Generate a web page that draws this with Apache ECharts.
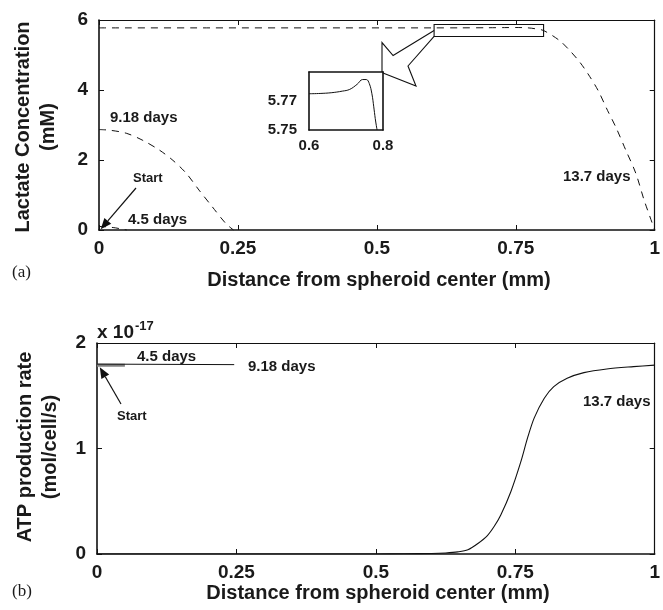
<!DOCTYPE html>
<html>
<head>
<meta charset="utf-8">
<script src="https://cdn.jsdelivr.net/npm/echarts@6/dist/echarts.min.js"></script>
<style>
  html, body { margin: 0; padding: 0; background: #fff; }
  #chart { width: 663px; height: 610px; }
</style>
</head>
<body>
<div id="chart"></div>
<script>
// ---- Panel (a): lactate concentration (mM) vs distance from spheroid center (mm)
const lacDist45 = [0, 0.01, 0.02, 0.03, 0.04, 0.05];
const lac45 = [0.1, 0.095, 0.08, 0.06, 0.03, 0];

const lacDist918 = [0, 0.02, 0.05, 0.079, 0.109, 0.133, 0.157, 0.18, 0.204, 0.228, 0.242];
const lac918 = [2.87, 2.85, 2.76, 2.56, 2.28, 1.99, 1.62, 1.14, 0.66, 0.19, 0];

const lacDist137 = [0, 0.2, 0.4, 0.6, 0.65, 0.7, 0.73, 0.75, 0.77, 0.785, 0.8, 0.829, 0.847, 0.865, 0.88, 0.898, 0.915, 0.93, 0.948, 0.966, 0.981, 1.0];
const lac137 = [5.775, 5.775, 5.775, 5.775, 5.776, 5.779, 5.783, 5.785, 5.778, 5.75, 5.70, 5.41, 5.13, 4.80, 4.46, 3.99, 3.42, 2.94, 2.28, 1.62, 0.85, 0];

// zoomed view of the 13.7-day plateau
const insetDist = [0.6, 0.63, 0.66, 0.69, 0.71, 0.73, 0.745, 0.755, 0.763, 0.77, 0.775, 0.779, 0.782, 0.784];
const insetLac = [5.775, 5.7752, 5.7757, 5.7768, 5.778, 5.7815, 5.7848, 5.7848, 5.782, 5.775, 5.766, 5.758, 5.753, 5.75];

// ---- Panel (b): ATP production rate, in units of 1e-17 mol/cell/s
const atpDist45 = [0, 0.05];
const atp45 = [1.79, 1.79];

const atpDist918 = [0, 0.246];
const atp918 = [1.80, 1.795];

const atpDist137 = [0, 0.2, 0.4, 0.5, 0.55, 0.6, 0.625, 0.647, 0.665, 0.683, 0.7, 0.712, 0.724, 0.742, 0.76, 0.772, 0.784, 0.802, 0.819, 0.843, 0.873, 0.914, 0.962, 1.0];
const atp137 = [0, 0, 0, 0, 0.002, 0.005, 0.01, 0.02, 0.04, 0.10, 0.175, 0.26, 0.37, 0.59, 0.875, 1.10, 1.29, 1.476, 1.586, 1.665, 1.719, 1.754, 1.776, 1.79];

// ---- Tick labels
const xTicks = [0, 0.25, 0.5, 0.75, 1];
const lacTicks = [0, 2, 4, 6];
const atpTicks = [0, 1, 2];
const insetXTicks = [0.6, 0.8];
const insetYTicks = [5.75, 5.77];

const FONT = '"Liberation Sans", Arial, Helvetica, sans-serif';
const SERIF = '"Liberation Serif", "Times New Roman", serif';

const pairs = (xs, ys) => xs.map((x, i) => [x, ys[i]]);
const fmtX = v => (Math.abs(v - 1) < 1e-9 ? '1' : Math.abs(v) < 1e-9 ? '0' : String(+v.toFixed(2)));

const tickLabel = { fontFamily: FONT, fontWeight: 'bold', fontSize: 19, color: '#1a1a1a' };

function mainX(gridIndex) {
  return [
    {
      type: 'value', gridIndex, min: 0, max: 1, interval: 0.25, position: 'bottom',
      axisLine: { onZero: false, lineStyle: { color: '#111', width: 1.6 } },
      axisTick: { inside: true, length: 5, customValues: xTicks, lineStyle: { color: '#111', width: 1 } },
      axisLabel: Object.assign({ margin: 9, customValues: xTicks, formatter: fmtX }, tickLabel),
      splitLine: { show: false }
    },
    {
      type: 'value', gridIndex, min: 0, max: 1, interval: 0.25, position: 'top',
      axisLine: { onZero: false, lineStyle: { color: '#111', width: 1.2 } },
      axisTick: { inside: true, length: 5, lineStyle: { color: '#111', width: 1 } },
      axisLabel: { show: false }, splitLine: { show: false }
    }
  ];
}
function mainY(gridIndex, max, interval, ticks) {
  return [
    {
      type: 'value', gridIndex, min: 0, max, interval, position: 'left',
      axisLine: { show: true, onZero: false, lineStyle: { color: '#111', width: 1.6 } },
      axisTick: { show: true, inside: true, length: 5, lineStyle: { color: '#111', width: 1 } },
      axisLabel: Object.assign({ margin: 11, customValues: ticks }, tickLabel),
      splitLine: { show: false }
    },
    {
      type: 'value', gridIndex, min: 0, max, interval, position: 'right',
      axisLine: { show: true, onZero: false, lineStyle: { color: '#111', width: 1.2 } },
      axisTick: { show: true, inside: true, length: 5, lineStyle: { color: '#111', width: 1 } },
      axisLabel: { show: false }, splitLine: { show: false }
    }
  ];
}

const insetLabel = { fontFamily: FONT, fontWeight: 'bold', fontSize: 15, color: '#1a1a1a', showMinLabel: true, showMaxLabel: true };

const chart = echarts.init(document.getElementById('chart'), null, { renderer: 'canvas' });

const dashed = { color: '#111', width: 1, type: [7, 6] };

chart.setOption({
  animation: false,
  backgroundColor: '#fff',
  grid: [
    { left: 99, top: 20, width: 560, height: 210 },
    { left: 97, top: 343, width: 561, height: 211 },
    { left: 309, top: 72, width: 74, height: 58 }
  ],
  xAxis: [
    ...mainX(0),
    ...mainX(1),
    {
      type: 'value', gridIndex: 2, min: 0.6, max: 0.8, position: 'bottom',
      axisLine: { onZero: false, lineStyle: { color: '#111', width: 1.6 } },
      axisTick: { show: false },
      axisLabel: Object.assign({ margin: 8, customValues: insetXTicks, formatter: v => v.toFixed(1) }, insetLabel),
      splitLine: { show: false }
    },
    {
      type: 'value', gridIndex: 2, min: 0.6, max: 0.8, position: 'top',
      axisLine: { onZero: false, lineStyle: { color: '#111', width: 1.6 } },
      axisTick: { show: false }, axisLabel: { show: false }, splitLine: { show: false }
    }
  ],
  yAxis: [
    ...mainY(0, 6, 2, lacTicks),
    ...mainY(1, 2, 1, atpTicks),
    {
      type: 'value', gridIndex: 2, min: 5.75, max: 5.79, position: 'left',
      axisLine: { show: true, onZero: false, lineStyle: { color: '#111', width: 1.6 } },
      axisTick: { show: false },
      axisLabel: Object.assign({ margin: 12, customValues: insetYTicks, formatter: v => v.toFixed(2) }, insetLabel),
      splitLine: { show: false }
    },
    {
      type: 'value', gridIndex: 2, min: 5.75, max: 5.79, position: 'right',
      axisLine: { show: true, onZero: false, lineStyle: { color: '#111', width: 1.6 } },
      axisTick: { show: false }, axisLabel: { show: false }, splitLine: { show: false }
    }
  ],
  series: [
    { name: '4.5 days', type: 'line', xAxisIndex: 0, yAxisIndex: 0, data: pairs(lacDist45, lac45), showSymbol: false, smooth: 0.3, lineStyle: dashed },
    { name: '9.18 days', type: 'line', xAxisIndex: 0, yAxisIndex: 0, data: pairs(lacDist918, lac918), showSymbol: false, smooth: 0.3, lineStyle: dashed },
    { name: '13.7 days', type: 'line', xAxisIndex: 0, yAxisIndex: 0, data: pairs(lacDist137, lac137), showSymbol: false, smooth: 0.3, lineStyle: dashed },
    { name: '13.7 days (detail)', type: 'line', xAxisIndex: 4, yAxisIndex: 4, data: pairs(insetDist, insetLac), showSymbol: false, smooth: 0.4, clip: true, lineStyle: { color: '#111', width: 1 } },
    { name: '4.5 days', type: 'line', xAxisIndex: 2, yAxisIndex: 2, data: pairs(atpDist45, atp45), showSymbol: false, z: 3, lineStyle: { color: '#808080', width: 3 } },
    { name: '9.18 days', type: 'line', xAxisIndex: 2, yAxisIndex: 2, data: pairs(atpDist918, atp918), showSymbol: false, lineStyle: { color: '#111', width: 1 } },
    { name: '13.7 days', type: 'line', xAxisIndex: 2, yAxisIndex: 2, data: pairs(atpDist137, atp137), showSymbol: false, smooth: 0.3, lineStyle: { color: '#111', width: 1.1 } }
  ]
});

// ---- Annotations, placed from the axes' own pixel conversions
const px = (grid, p) => chart.convertToPixel({ gridIndex: grid }, p);
const stroke = { stroke: '#111', lineWidth: 1.1, fill: null };

function arrow(tip, tail) {
  const ang = Math.atan2(tip[1] - tail[1], tip[0] - tail[0]);
  const L = 11, W = 4.5;
  const bx = tip[0] - L * Math.cos(ang), by = tip[1] - L * Math.sin(ang);
  const nx = -Math.sin(ang) * W, ny = Math.cos(ang) * W;
  return [
    { type: 'line', shape: { x1: tail[0], y1: tail[1], x2: bx, y2: by }, style: { stroke: '#111', lineWidth: 1.2 } },
    { type: 'polygon', shape: { points: [tip, [bx + nx, by + ny], [bx - nx, by - ny]] }, style: { fill: '#111' } }
  ];
}
function label(text, x, y, size) {
  return {
    type: 'text', x, y,
    style: { text, fontFamily: FONT, fontWeight: 'bold', fontSize: size, fill: '#1a1a1a', align: 'left', verticalAlign: 'middle' }
  };
}

const g = [];

// box on the plateau and the callout pointing to its detail view
const r0 = px(0, [0.603, 5.87]);
const r1 = px(0, [0.8, 5.53]);
g.push({ type: 'rect', shape: { x: r0[0], y: r0[1], width: r1[0] - r0[0], height: r1[1] - r0[1] }, style: stroke });
const insR = 309 + 74, insT = 72;
g.push({
  type: 'polyline',
  shape: { points: [[r0[0], r0[1] + 6], [r0[0] - 41, r0[1] + 31], [insR - 1, r0[1] + 18], [insR - 1, insT]] },
  style: stroke
});
g.push({
  type: 'polyline',
  shape: { points: [[insR, insT + 1], [insR + 33, insT + 14], [insR + 25, insT - 6], [r0[0], r1[1]]] },
  style: stroke
});

// panel (a) labels
g.push(label('9.18 days', 110, 118, 15));
g.push(label('Start', 133, 178, 13));
g.push(label('4.5 days', 128, 220, 15));
g.push(label('13.7 days', 563, 177, 15));
g.push(...arrow(px(0, [0.003, 0.02]), [136, 188]));

// panel (b) labels
g.push(label('4.5 days', 137, 357, 15));
g.push(label('9.18 days', 248, 367, 15));
g.push(label('Start', 117, 416, 13));
g.push(label('13.7 days', 583, 402, 15));
g.push(...arrow(px(1, [0.005, 1.77]), [121, 404]));

// axis titles
const titleStyle = { fontFamily: FONT, fontWeight: 'bold', fontSize: 20, fill: '#1a1a1a', align: 'center', verticalAlign: 'middle' };
g.push({ type: 'text', x: 379, y: 280, style: Object.assign({ text: 'Distance from spheroid center (mm)' }, titleStyle) });
g.push({ type: 'text', x: 378, y: 593, style: Object.assign({ text: 'Distance from spheroid center (mm)' }, titleStyle) });
g.push({ type: 'text', x: 23, y: 127, rotation: Math.PI / 2, style: Object.assign({ text: 'Lactate Concentration' }, titleStyle) });
g.push({ type: 'text', x: 48, y: 127, rotation: Math.PI / 2, style: Object.assign({ text: '(mM)' }, titleStyle) });
g.push({ type: 'text', x: 25, y: 447, rotation: Math.PI / 2, style: Object.assign({ text: 'ATP production rate' }, titleStyle) });
g.push({ type: 'text', x: 50, y: 447, rotation: Math.PI / 2, style: Object.assign({ text: '(mol/cell/s)' }, titleStyle) });

// exponent of the ATP axis
g.push({
  type: 'text', x: 97, y: 333,
  style: {
    text: '{b|x 10}{s|-17}', verticalAlign: 'middle', align: 'left',
    rich: {
      b: { fontFamily: FONT, fontWeight: 'bold', fontSize: 19, fill: '#1a1a1a' },
      s: { fontFamily: FONT, fontWeight: 'bold', fontSize: 13, fill: '#1a1a1a', verticalAlign: 'top', padding: [0, 0, 14, 1] }
    }
  }
});

// panel tags
g.push({ type: 'text', x: 12, y: 273, style: { text: '(a)', fontFamily: SERIF, fontSize: 17, fill: '#1a1a1a', verticalAlign: 'middle' } });
g.push({ type: 'text', x: 12, y: 592, style: { text: '(b)', fontFamily: SERIF, fontSize: 17, fill: '#1a1a1a', verticalAlign: 'middle' } });

chart.setOption({ graphic: { elements: g } });
</script>
</body>
</html>
